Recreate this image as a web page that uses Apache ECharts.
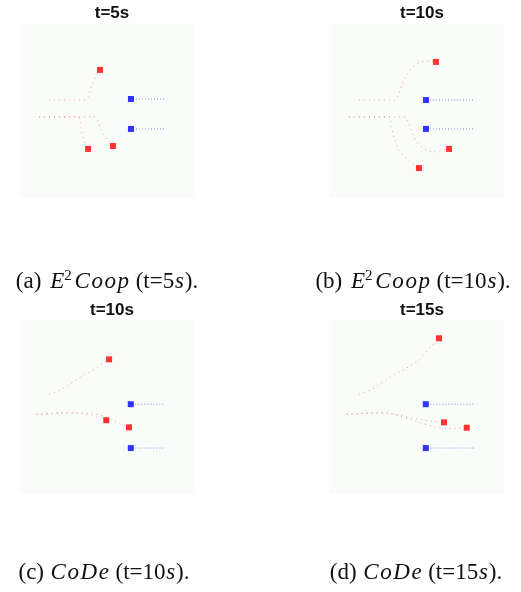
<!DOCTYPE html>
<html>
<head>
<meta charset="utf-8">
<script src="https://cdn.jsdelivr.net/npm/echarts@6/dist/echarts.min.js"></script>
<style>
  html, body { margin: 0; padding: 0; background: #fff; }
  #chart { width: 521px; height: 592px; }
</style>
</head>
<body>
<div id="chart"></div>
<script>
// split a string into rich tokens so math letters get a bit of spacing (LaTeX-like width)
function sp(style, s) {
  return s.split("").map(function (c) { return "{" + style + "|" + c + "}"; }).join("");
}

// panel titles and captions
const titles = ["t=5s", "t=10s", "t=10s", "t=15s"];
const captions = [
  "{n|(a) }{e|E}{s|2}" + sp("i", "Coop") + "{n| (t=5}{i|s}{n|).}",
  "{n|(b) }{e|E}{s|2}" + sp("i", "Coop") + "{n| (t=10}{i|s}{n|).}",
  "{n|(c) }" + sp("i", "CoDe") + "{n| (t=10}{i|s}{n|).}",
  "{n|(d) }" + sp("i", "CoDe") + "{n| (t=15}{i|s}{n|).}"
];

// red agent trajectories (last point = current position), field units 0..100
const redA = [
  [[16.6,56.3],[37.1,56.3],[38.9,58],[40,61.5],[41.1,64.9],[42.3,67.8],[44,70.7],[45.7,73.6]],
  [[10.9,46.6],[33.1,46.6],[34.3,43.7],[34.9,40.2],[35.4,37.4],[36,34.5],[37.1,31.6],[38.9,28.2]],
  [[10.9,46.6],[42.9,46.6],[44.6,44.3],[45.7,40.8],[46.9,37.4],[48.6,35.1],[50.9,32.2],[53.1,29.9]]
];
const redB = [
  [[17.1,56.3],[37.7,56.3],[39.4,58.6],[40.6,61.5],[41.7,64.9],[42.9,67.8],[44.6,70.7],[46.3,73.6],
   [48.6,75.9],[51.4,77.6],[54.9,78.7],[57.7,78.7],[61.1,78.2]],
  [[11.4,46.6],[34.3,46.6],[35.4,44.3],[35.4,40.8],[36.6,37.4],[37.1,34.5],[38.3,31.6],[39.4,28.2],
   [41.7,25.3],[44,23],[46.3,20.7],[51.4,17.2]],
  [[11.4,46.6],[43.4,46.6],[45.1,44.3],[46.3,40.8],[47.4,37.4],[48.6,35.1],[50.3,32.2],[53.1,29.3],
   [56,27.6],[59.4,26.4],[63.4,27],[68.6,28.2]]
];
const redC = [
  [[16.7,57.3],[20,58.6],[23.3,59.8],[25.7,61.3],[28.6,63.2],[31.4,65.1],[34.3,67.1],[37.1,68.8],
   [40,70.3],[42.9,71.8],[45.7,74.1],[48.6,75.7],[50.9,77.4]],
  [[9.5,45.8],[17.1,46.1],[24.7,46.6],[32.4,46.4],[36.2,46],[40,45.2],[43.8,44.3],[46.7,43.3],[49.3,42.4]],
  [[9.5,45.8],[22.9,46.6],[34.3,46.7],[40,46.4],[45.7,45.4],[51.4,43.1],[54.3,41.6],[57.1,40.2],
   [60,39.3],[62.3,38.3]]
];
const redD = [
  [[17.3,57.3],[20.6,58.6],[23.8,59.8],[26.3,61.3],[29.1,63.2],[32,65.1],[34.9,67.1],[37.7,68.8],
   [40.6,70.3],[43.4,71.8],[46.3,73.6],[49.1,75.5],[52,77.4],[53.9,79.9],[56.2,82.4],[58.7,85.1],
   [61,87.5],[62.9,89.5]],
  [[10.1,45.8],[17.7,46.1],[25.3,46.6],[33,46.4],[40.6,45.4],[46.3,44.1],[52,42.9],[57.7,42],
   [61.7,41.4],[65.7,41.2]],
  [[10.1,45.8],[21.5,46.4],[33,46.6],[40.6,44.8],[46.3,42.9],[52,41],[57.7,39.3],[62.3,38.1],
   [67.4,37.5],[72,37.8],[78.7,38.1]]
];

// blue agents (current position) and where their trail starts (x)
const blueA = [[63.4,56.9],[63.4,39.7]];
const blueB = [[55.4,56.3],[55.4,39.7]];
const blueC = [[63.3,51.6],[63.3,26.4]];
const blueD = [[55.3,51.6],[55.3,26.4]];
const blueTrailStart = [82.3, 82.3, 81.9, 82.5];

const reds = [redA, redB, redC, redD];
const blues = [blueA, blueB, blueC, blueD];

// layout
const grids = [
  { left: 20, top: 24, width: 175, height: 174 },
  { left: 329, top: 24, width: 175, height: 174 },
  { left: 20, top: 320, width: 175, height: 174 },
  { left: 329, top: 320, width: 175, height: 174 }
];
const titlePos = [[112, 13], [422, 13], [112, 310], [422, 310]];
const captionPos = [[107, 282], [413, 282], [104, 573], [416, 573]];

var chart = echarts.init(document.getElementById("chart"));

var serif = "'Liberation Serif', 'Times New Roman', serif";
var rich = {
  n: { fontFamily: serif, fontSize: 23, lineHeight: 26, color: "#111" },
  i: { fontFamily: serif, fontStyle: "italic", fontSize: 23, lineHeight: 26, color: "#111", padding: [0, 0.8, 0, 0.8] },
  e: { fontFamily: serif, fontStyle: "italic", fontSize: 23, lineHeight: 26, color: "#111", padding: [0, 0, 0, 3] },
  s: { fontFamily: serif, fontSize: 15, lineHeight: 26, verticalAlign: "top", padding: [0, 2, 0, 0], color: "#111" }
};

var gridList = [], xAxes = [], yAxes = [], series = [], graphics = [];
grids.forEach(function (g, i) {
  gridList.push(Object.assign({ show: true, backgroundColor: "#fafcfa", borderWidth: 0 }, g));
  xAxes.push({ gridIndex: i, type: "value", min: 0, max: 100, show: false });
  yAxes.push({ gridIndex: i, type: "value", min: 0, max: 100, show: false });

  reds[i].forEach(function (trail) {
    series.push({
      type: "line", xAxisIndex: i, yAxisIndex: i, data: trail,
      showSymbol: false, silent: true, smooth: 0.3,
      lineStyle: { color: "#e48a8a", width: 1, type: [1, 4], opacity: 0.8 }
    });
  });
  blues[i].forEach(function (p) {
    series.push({
      type: "line", xAxisIndex: i, yAxisIndex: i,
      data: [[blueTrailStart[i], p[1]], p],
      showSymbol: false, silent: true,
      lineStyle: { color: "#8d8dd6", width: 1, type: [1, 2] }
    });
  });
  // markers
  series.push({
    type: "scatter", xAxisIndex: i, yAxisIndex: i, symbol: "rect", symbolSize: 6,
    data: reds[i].map(function (t) { return t[t.length - 1]; }),
    itemStyle: { color: "#ff0000" }, z: 5
  });
  series.push({
    type: "scatter", xAxisIndex: i, yAxisIndex: i, symbol: "rect", symbolSize: 6,
    data: blues[i], itemStyle: { color: "#0000ff" }, z: 5
  });

  graphics.push({
    type: "text", x: titlePos[i][0], y: titlePos[i][1],
    style: {
      text: titles[i], align: "center", verticalAlign: "middle",
      font: "bold 17px 'Liberation Sans', Arial, sans-serif", fill: "#111"
    }
  });
  graphics.push({
    type: "text", x: captionPos[i][0], y: captionPos[i][1],
    style: { text: captions[i], align: "center", verticalAlign: "middle", fill: "#111", rich: rich }
  });
});

var option = {
  animation: false,
  grid: gridList,
  xAxis: xAxes,
  yAxis: yAxes,
  series: series,
  graphic: graphics
};
chart.setOption(option);
</script>
</body>
</html>
